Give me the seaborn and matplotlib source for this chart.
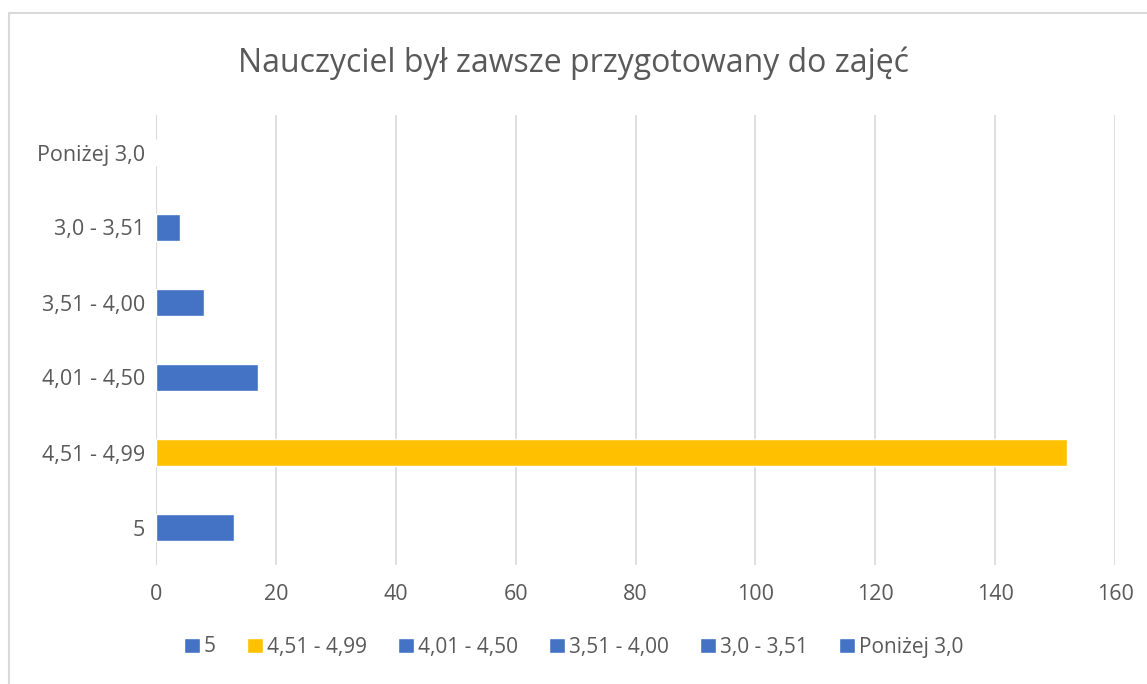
import pandas as pd
import seaborn as sns
import matplotlib.pyplot as plt
from matplotlib.patches import Patch, Rectangle

# values, top-to-bottom on the y axis
categories = ['Poniżej 3,0', '3,0 - 3,51', '3,51 - 4,00', '4,01 - 4,50', '4,51 - 4,99', '5']
counts = [0, 4, 8, 17, 152, 13]
legend_order = ['5', '4,51 - 4,99', '4,01 - 4,50', '3,51 - 4,00', '3,0 - 3,51', 'Poniżej 3,0']

blue = '#4472C4'
yellow = '#FFC000'
colors = {c: (yellow if c == '4,51 - 4,99' else blue) for c in categories}

df = pd.DataFrame({'cat': categories, 'val': counts})

sns.set_style('white')
plt.rcParams['font.family'] = ['Open Sans', 'DejaVu Sans']
text_col = '#595959'

W, H = 1147, 684
fig = plt.figure(figsize=(W / 100, H / 100), dpi=100)
ax = fig.add_axes([156 / W, 1 - 565 / H, (1115 - 156) / W, (565 - 115) / H])

sns.barplot(data=df, y='cat', x='val', hue='cat', palette=colors, order=categories,
            hue_order=categories, orient='h', width=0.35, dodge=False, legend=False,
            saturation=1, ax=ax)

ax.set_xlim(0, 160)
ax.set_xticks(range(0, 161, 20))
ax.grid(axis='x', color='#d9d9d9', linewidth=1.2)
ax.set_axisbelow(True)
for s in ax.spines.values():
    s.set_visible(False)
ax.axvline(0, color='#d9d9d9', linewidth=1.5, zorder=0)
ax.set_xlabel('')
ax.set_ylabel('')
ax.tick_params(axis='both', length=0, labelsize=15.5, colors=text_col)
ax.tick_params(axis='x', pad=14)
ax.tick_params(axis='y', pad=8)

fig.text(0.5, 1 - 63 / H, 'Nauczyciel był zawsze przygotowany do zajęć',
         ha='center', va='center', fontsize=23, color=text_col)

handles = [Patch(facecolor=colors[c], label=c) for c in legend_order]
leg = fig.legend(handles=handles, loc='center', bbox_to_anchor=(0.5, 1 - 647 / H), ncol=6,
                 frameon=False, fontsize=15, handlelength=0.75, handleheight=0.75,
                 handletextpad=0.2, columnspacing=1.5)
for t in leg.get_texts():
    t.set_color(text_col)

fig.patches.append(Rectangle((9 / W, -0.01), 1.02, 1 - 13 / H + 0.01,
                             transform=fig.transFigure, fill=False,
                             edgecolor='#d9d9d9', linewidth=1.5))

fig.savefig('out.png', dpi=100, facecolor='white')
